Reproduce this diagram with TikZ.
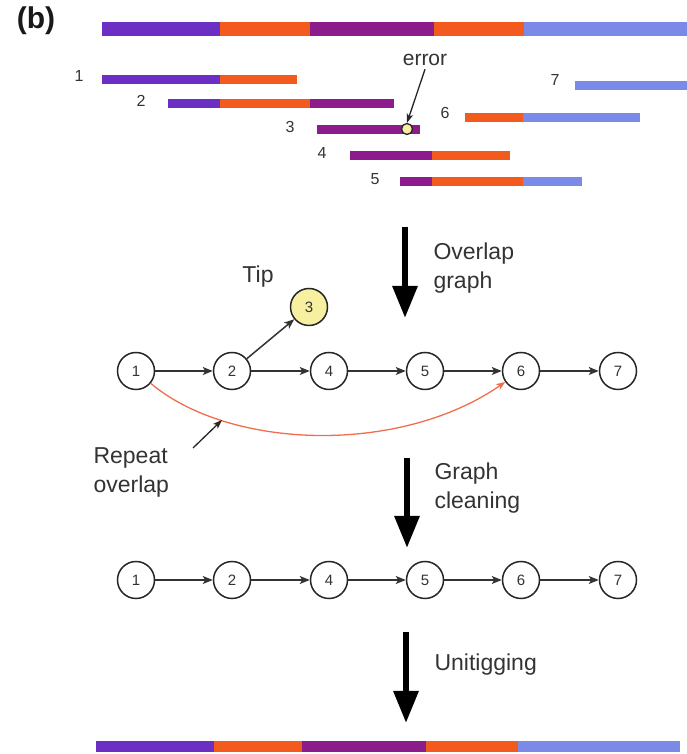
\documentclass[tikz,border=0pt]{standalone}
\usepackage{fontspec}
\setmainfont{Liberation Sans}
\usetikzlibrary{arrows.meta}
% segment colours of the genome and the reads
\definecolor{segViolet}{RGB}{107,47,196}
\definecolor{segOrange}{RGB}{242,90,30}
\definecolor{segPlum}{RGB}{140,28,140}
\definecolor{segBlue}{RGB}{122,138,230}
\definecolor{repeatRed}{RGB}{240,110,80}
\definecolor{tipYellow}{RGB}{246,240,160}
\begin{document}
\begin{tikzpicture}[x=1pt, y=1pt,
  readnode/.style={circle, draw=black!85, line width=1.5pt, minimum size=37pt, inner sep=0pt, font=\fontsize{15}{15}\selectfont, text=black!80},
  readlabel/.style={font=\fontsize{16}{16}\selectfont, text=black!80},
  edge/.style={draw=black!80, line width=1.5pt, -{Stealth[length=10pt,width=8pt,inset=2.5pt]}},
  pointer/.style={draw=black!85, line width=1.3pt, -{Stealth[length=9pt,width=6.5pt,inset=2pt]}},
  bigarrow/.style={draw=black, line width=6pt, -{Triangle[length=32pt,width=24pt]}},
  steplabel/.style={anchor=west, align=left, font=\fontsize{23}{29}\selectfont, text=black!80}]
\useasboundingbox (0,0) rectangle (687,754);
\node[font=\fontsize{30}{30}\selectfont\bfseries, text=black!90] (panel) at (36,733) {(b)};
% Genome and reads, one scope per segment colour
\begin{scope}[fill=segViolet]
  \fill (102,718) rectangle (220,732);
  \fill (102,670) rectangle (220,679);
  \fill (168,646) rectangle (220,655);
  \fill (96,2) rectangle (214,13);
\end{scope}
\begin{scope}[fill=segOrange]
  \fill (220,718) rectangle (310,732);
  \fill (434,718) rectangle (524,732);
  \fill (220,670) rectangle (297,679);
  \fill (220,646) rectangle (310,655);
  \fill (432,594) rectangle (510,603);
  \fill (432,568) rectangle (523,577);
  \fill (465,632) rectangle (523,641);
  \fill (214,2) rectangle (302,13);
  \fill (426,2) rectangle (518,13);
\end{scope}
\begin{scope}[fill=segPlum]
  \fill (310,718) rectangle (434,732);
  \fill (310,646) rectangle (394,655);
  \fill (317,620) rectangle (420,629);
  \fill (350,594) rectangle (432,603);
  \fill (400,568) rectangle (432,577);
  \fill (302,2) rectangle (426,13);
\end{scope}
\begin{scope}[fill=segBlue]
  \fill (524,718) rectangle (687,732);
  \fill (523,568) rectangle (582,577);
  \fill (523,632) rectangle (640,641);
  \fill (575,664) rectangle (687,673);
  \fill (518,2) rectangle (680,13);
\end{scope}
% Read numbers
\node[readlabel] (r1) at (79,678) {1};
\node[readlabel] (r2) at (141,653) {2};
\node[readlabel] (r3) at (290,627) {3};
\node[readlabel] (r4) at (322,601) {4};
\node[readlabel] (r5) at (375,575) {5};
\node[readlabel] (r6) at (445,641) {6};
\node[readlabel] (r7) at (555,674) {7};
% Sequencing error on read 3
\node[circle, fill=tipYellow, draw=black!85, line width=1.3pt, minimum size=11pt, inner sep=0pt] (err) at (407,625) {};
\node[font=\fontsize{21}{21}\selectfont, text=black!80] (errlabel) at (425,694) {error};
\draw[pointer] (errlabel.south) -- (err.north);
% Overlap graph
\draw[bigarrow] (405,527) -- (405,436);
\node[steplabel] (step1) at (430,486) {Overlap\\graph};
\node[readnode] (a1) at (136,383) {1};
\node[readnode] (a2) at (232,383) {2};
\node[readnode, fill=tipYellow] (a3) at (309,447) {3};
\node[readnode] (a4) at (329,383) {4};
\node[readnode] (a5) at (425,383) {5};
\node[readnode] (a6) at (521,383) {6};
\node[readnode] (a7) at (618,383) {7};
\node[font=\fontsize{23}{23}\selectfont, text=black!80] (tip) at (258,477) {Tip};
\draw[edge] (a1) -- (a2);
\draw[edge] (a2) -- (a3);
\draw[edge] (a2) -- (a4);
\draw[edge] (a4) -- (a5);
\draw[edge] (a5) -- (a6);
\draw[edge] (a6) -- (a7);
\draw[draw=repeatRed, line width=1.3pt, -{Stealth[length=9pt,width=7pt,inset=2.5pt]}]
  (a1) .. controls (230,304) and (400,299) .. (a6);
\node[steplabel] (repeat) at (90,282) {Repeat\\overlap};
\coordinate (rptail) at (193,306);
\coordinate (rphead) at (222,334);
\draw[pointer] (rptail) -- (rphead);
% Cleaned graph
\draw[bigarrow] (407,296) -- (407,206);
\node[steplabel] (step2) at (431,266) {Graph\\cleaning};
\node[readnode] (b1) at (136,174) {1};
\node[readnode] (b2) at (232,174) {2};
\node[readnode] (b4) at (329,174) {4};
\node[readnode] (b5) at (425,174) {5};
\node[readnode] (b6) at (521,174) {6};
\node[readnode] (b7) at (618,174) {7};
\draw[edge] (b1) -- (b2);
\draw[edge] (b2) -- (b4);
\draw[edge] (b4) -- (b5);
\draw[edge] (b5) -- (b6);
\draw[edge] (b6) -- (b7);
% Unitig
\draw[bigarrow] (406,122) -- (406,31);
\node[steplabel] (step3) at (431,89) {Unitigging};
\end{tikzpicture}
\end{document}
